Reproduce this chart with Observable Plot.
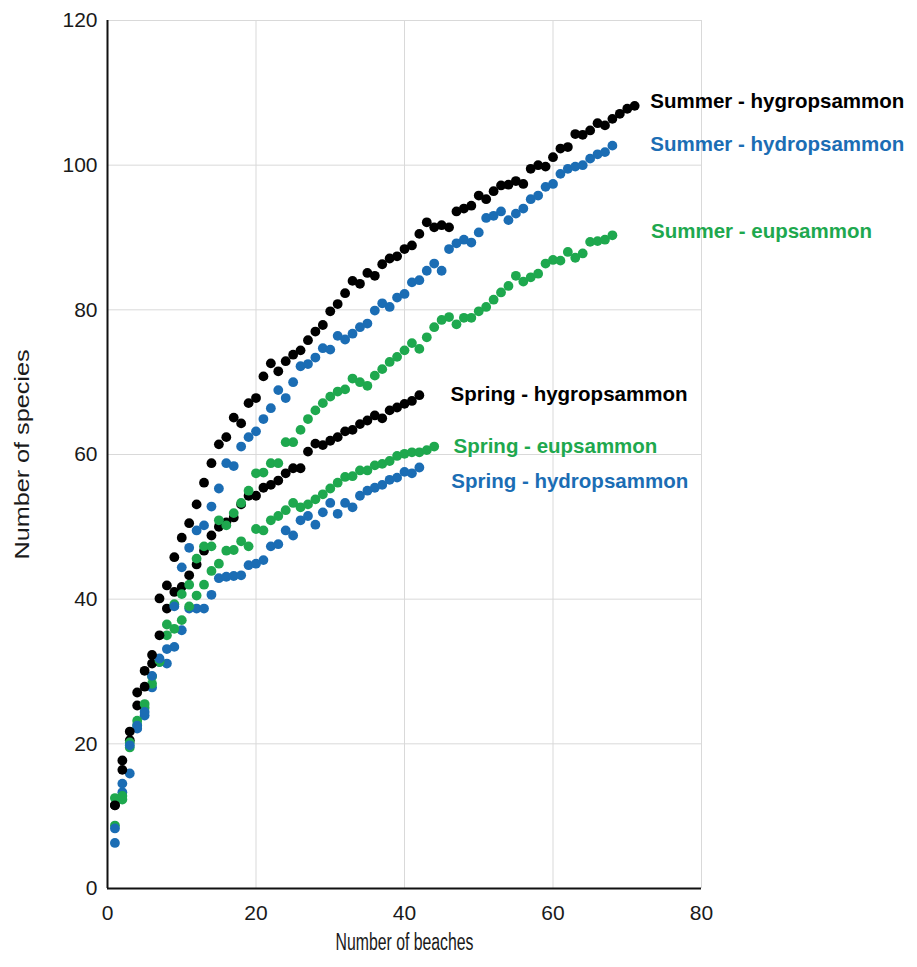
<!DOCTYPE html>
<html>
<head>
<meta charset="utf-8">
<script src="https://cdn.jsdelivr.net/npm/d3@7"></script>
<script src="https://cdn.jsdelivr.net/npm/@observablehq/plot@0.6"></script>
<style>
  html, body { margin: 0; padding: 0; background: #fff; }
  #chart svg { display: block; }
</style>
</head>
<body>
<div id="chart"></div>
<script>
// Cumulative number of species vs number of beaches (x = 1..N beaches)
const summerHygro = [11.5, 17.7, 21.7, 27.1, 30.1, 32.3, 40.1, 41.9, 45.8, 48.5,
  50.5, 53.1, 56.1, 58.8, 61.4, 62.4, 65.1, 64.3, 67.1, 67.8,
  70.8, 72.6, 71.5, 72.9, 73.8, 74.4, 75.8, 77.0, 77.9, 79.8,
  80.8, 82.3, 84.0, 83.6, 85.1, 84.7, 86.3, 87.1, 87.4, 88.4,
  88.9, 90.5, 92.1, 91.4, 91.7, 91.4, 93.6, 94.0, 94.4, 95.8,
  95.3, 96.4, 97.2, 97.3, 97.8, 97.4, 99.5, 100.0, 99.8, 101.1,
  102.3, 102.5, 104.3, 104.2, 104.8, 105.8, 105.5, 106.4, 107.1, 107.8,
  108.2];
const summerHydro = [8.3, 14.5, 19.8, 22.5, 24.4, 29.4, 31.8, 33.1, 39.0, 44.4,
  47.1, 49.5, 50.2, 52.8, 55.3, 58.8, 58.4, 61.1, 62.4, 63.2,
  64.9, 66.4, 68.9, 67.8, 70.0, 72.2, 72.5, 73.4, 74.7, 74.5,
  76.4, 75.9, 76.7, 77.6, 78.1, 79.9, 80.9, 80.4, 81.7, 82.2,
  83.8, 84.1, 85.4, 86.4, 85.4, 88.4, 89.2, 89.7, 89.3, 90.7,
  92.7, 93.0, 93.6, 92.4, 93.3, 94.0, 95.3, 95.8, 97.0, 97.4,
  98.8, 99.5, 99.8, 100.0, 100.9, 101.5, 101.8, 102.7];
const summerEu = [12.5, 12.8, 20.2, 23.2, 25.5, 29.3, 31.5, 36.5, 39.3, 40.7,
  42.0, 45.6, 47.3, 47.3, 50.9, 50.2, 51.9, 53.3, 55.0, 57.4,
  57.5, 58.8, 58.8, 61.7, 61.7, 63.4, 64.9, 66.1, 67.1, 68.0,
  68.7, 69.0, 70.5, 70.0, 69.5, 70.9, 71.8, 72.8, 73.5, 74.4,
  75.4, 74.6, 76.2, 77.6, 78.6, 79.0, 78.0, 78.9, 78.9, 79.8,
  80.4, 81.4, 82.4, 83.3, 84.7, 83.9, 84.5, 85.0, 86.4, 86.9,
  86.8, 88.0, 87.2, 87.8, 89.4, 89.5, 89.7, 90.3];
const springHygro = [11.5, 16.4, 20.5, 25.3, 27.9, 31.1, 35.0, 38.7, 41.0, 41.7,
  43.3, 44.8, 46.7, 48.8, 50.0, 50.6, 51.3, 53.1, 54.3, 54.3,
  55.4, 55.8, 56.4, 57.4, 58.1, 58.1, 60.4, 61.5, 61.3, 61.9,
  62.4, 63.2, 63.4, 64.2, 64.7, 65.4, 65.0, 66.1, 66.5, 67.0,
  67.4, 68.2];
const springEu = [8.7, 12.3, 19.5, 22.6, 25.0, 28.3, 31.3, 35.0, 35.9, 37.1,
  39.0, 40.5, 42.0, 43.9, 44.9, 46.7, 46.8, 48.0, 47.3, 49.7,
  49.5, 50.9, 51.5, 52.3, 53.3, 52.7, 53.1, 53.8, 54.5, 55.3,
  56.1, 56.9, 57.0, 57.8, 57.8, 58.5, 58.7, 59.1, 59.8, 60.1,
  60.3, 60.3, 60.6, 61.1];
const springHydro = [6.3, 13.3, 15.9, 22.1, 23.9, 27.8, 31.3, 31.1, 33.4, 35.7,
  38.7, 38.7, 38.7, 40.6, 42.9, 43.1, 43.2, 43.3, 44.7, 44.9,
  45.4, 47.3, 47.6, 49.5, 48.8, 50.9, 51.5, 50.3, 52.0, 53.3,
  51.8, 53.3, 52.7, 54.3, 55.0, 55.4, 55.8, 56.5, 56.8, 57.6,
  57.4, 58.2];

const seriesNames = ["Spring - hydropsammon", "Spring - eupsammon", "Spring - hygropsammon",
  "Summer - eupsammon", "Summer - hydropsammon", "Summer - hygropsammon"];
const seriesValues = [springHydro, springEu, springHygro, summerEu, summerHydro, summerHygro];

// Series labels (anchor positions in data units)
const labelNames = ["Summer - hygropsammon", "Summer - hydropsammon", "Summer - eupsammon",
  "Spring - hygropsammon", "Spring - eupsammon", "Spring - hydropsammon"];
const labelX = [73.1, 73.1, 73.2, 46.2, 46.6, 46.3];
const labelY = [108.8, 102.9, 90.8, 68.3, 61.1, 56.3];

const xTicks = [0, 20, 40, 60, 80];
const yTicks = [0, 20, 40, 60, 80, 100, 120];

const BLACK = "#000000", BLUE = "#1b6db4", GREEN = "#1ea84e";
const colorOf = name => name.includes("hygro") ? BLACK : name.includes("hydro") ? BLUE : GREEN;

const points = seriesNames.flatMap((name, i) =>
  seriesValues[i].map((v, j) => ({series: name, beaches: j + 1, species: v})));
const labels = labelNames.map((name, i) => ({name, x: labelX[i], y: labelY[i]}));

const chart = Plot.plot({
  width: 917,
  height: 967,
  marginLeft: 107,
  marginRight: 216,
  marginTop: 20,
  marginBottom: 79,
  style: {fontFamily: "'Liberation Sans', Arial, sans-serif", fontSize: "21px", color: "#1a1a1a", background: "#fff"},
  x: {domain: [0, 80], ticks: xTicks, label: null},
  y: {domain: [0, 120], ticks: yTicks, label: null},
  marks: [
    Plot.gridX(xTicks, {stroke: "#d9d9d9", strokeOpacity: 1, strokeWidth: 1}),
    Plot.gridY(yTicks, {stroke: "#d9d9d9", strokeOpacity: 1, strokeWidth: 1}),
    Plot.axisX(xTicks, {tickSize: 0, tickPadding: 17, fontSize: 21, label: null}),
    Plot.axisY(yTicks, {tickSize: 0, tickPadding: 10, fontSize: 21, label: null}),
    Plot.ruleX([0], {stroke: "#111", strokeWidth: 2}),
    Plot.ruleY([0], {stroke: "#111", strokeWidth: 2}),
    Plot.dot(points, {x: "beaches", y: "species", r: 4.9, fill: d => colorOf(d.series), stroke: null}),
    Plot.text(labels, {x: "x", y: "y", text: "name", textAnchor: "start", fill: d => colorOf(d.name),
      fontWeight: "bold", fontSize: 20.5}),
    Plot.text(["Number of beaches"], {frameAnchor: "bottom", dy: 61, fontSize: 23, fill: "#1a1a1a",
      className: "xtitle"}),
    Plot.text(["Number of species"], {frameAnchor: "left", textAnchor: "middle", dx: -85, rotate: -90,
      fontSize: 20, fill: "#1a1a1a", className: "ytitle"})
  ]
});
document.getElementById("chart").appendChild(chart);
// The reference's axis titles are drawn with condensed / stretched glyphs: fit them to its lengths.
const fit = (cls, len) => chart.querySelectorAll(`.${cls} text`).forEach(t => {
  t.setAttribute("textLength", len);
  t.setAttribute("lengthAdjust", "spacingAndGlyphs");
});
fit("xtitle", 138);
fit("ytitle", 210);
</script>
</body>
</html>
